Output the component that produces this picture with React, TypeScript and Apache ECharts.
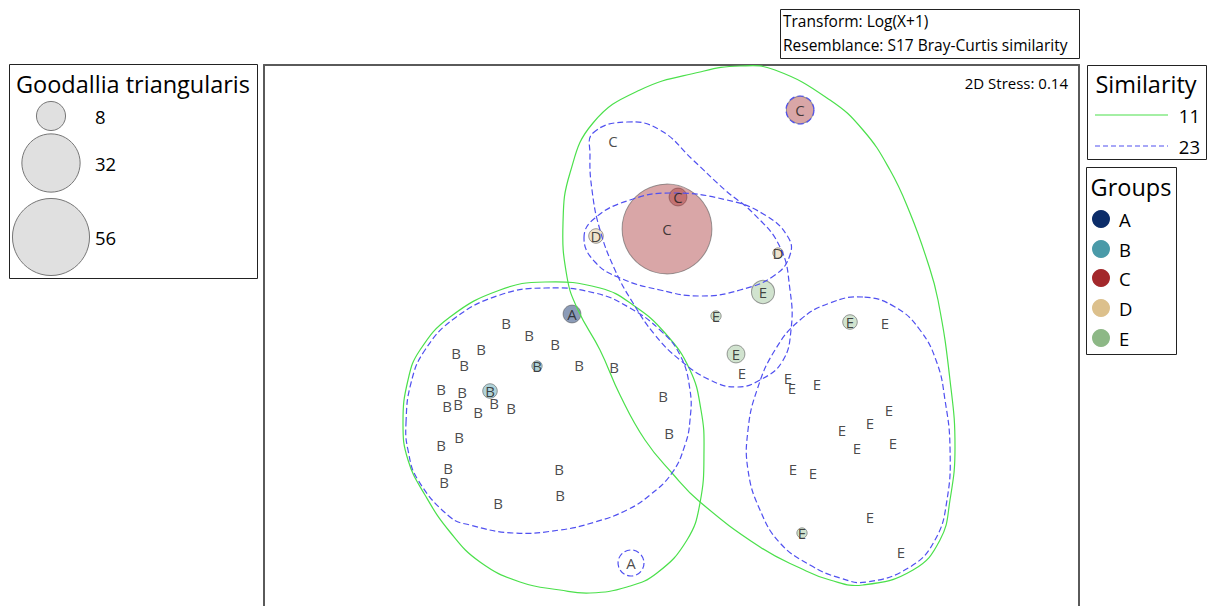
import React, { useEffect, useRef } from "react";
import * as echarts from "echarts";

const FONT = '"Open Sans", "Noto Sans", sans-serif';

// nMDS coordinates: [x, y, Goodallia triangularis abundance]
const groupA = [
  [-0.98, 0.21, 3],
  [-0.39, -2.28, 0],
];
const groupB = [
  [-1.64, 0.12, 0],
  [-1.41, 0.0, 0],
  [-1.15, -0.09, 0],
  [-1.89, -0.14, 0],
  [-2.14, -0.18, 0],
  [-2.06, -0.3, 0],
  [-1.33, -0.31, 1],
  [-0.91, -0.3, 0],
  [-0.56, -0.32, 0],
  [-2.29, -0.54, 0],
  [-2.08, -0.57, 0],
  [-1.8, -0.56, 2],
  [-2.23, -0.71, 0],
  [-2.12, -0.69, 0],
  [-1.76, -0.68, 0],
  [-1.92, -0.77, 0],
  [-1.59, -0.73, 0],
  [-0.07, -0.61, 0],
  [-0.01, -0.98, 0],
  [-2.29, -1.1, 0],
  [-2.11, -1.02, 0],
  [-2.22, -1.33, 0],
  [-2.26, -1.47, 0],
  [-1.11, -1.34, 0],
  [-1.1, -1.6, 0],
  [-1.72, -1.68, 0],
];
const groupC = [
  [1.3, 2.25, 7],
  [-0.57, 1.94, 0],
  [0.08, 1.38, 3],
  [-0.03, 1.06, 76],
];
const groupD = [
  [-0.74, 0.99, 2],
  [1.08, 0.82, 1],
];
const groupE = [
  [0.93, 0.43, 5],
  [0.46, 0.19, 1],
  [0.66, -0.19, 3],
  [0.72, -0.38, 0],
  [1.8, 0.13, 2],
  [2.15, 0.12, 0],
  [1.18, -0.43, 0],
  [1.22, -0.53, 0],
  [1.47, -0.49, 0],
  [2.19, -0.75, 0],
  [2.0, -0.88, 0],
  [1.72, -0.95, 0],
  [2.23, -1.08, 0],
  [1.87, -1.13, 0],
  [1.23, -1.34, 0],
  [1.43, -1.38, 0],
  [2.0, -1.82, 0],
  [1.32, -1.98, 1],
  [2.31, -2.17, 0],
];

const groupNames = ["A", "B", "C", "D", "E"];
const groupData = [groupA, groupB, groupC, groupD, groupE];
const groupColors = ["#0c2d69", "#4a9aa8", "#a3282b", "#dcc08c", "#8db886"];
const bubbleFills = [
  "rgba(12,45,105,0.6)",
  "rgba(74,154,168,0.55)",
  "rgba(163,40,43,0.52)",
  "rgba(220,192,140,0.55)",
  "rgba(141,184,134,0.5)",
];

const sizeLegendValues = [8, 32, 56];
const similarityLevels = ["11", "23"];
const similarityColors = ["#4be04b", "#5050f0"];

// Similarity contours (cluster level 11, solid)
const contours11 = [
  [
    [-2.67, -0.88], [-2.62, -0.45], [-2.5, -0.15], [-2.2, 0.18], [-1.7, 0.45],
    [-1.25, 0.53], [-0.7, 0.47], [-0.37, 0.3], [-0.05, 0.02], [0.2, -0.35],
    [0.31, -0.75], [0.34, -1.15], [0.3, -1.68], [0.17, -2.05], [-0.13, -2.38],
    [-0.43, -2.52], [-0.8, -2.58], [-1.1, -2.55], [-1.5, -2.47], [-1.9, -2.27],
    [-2.2, -1.97], [-2.45, -1.6], [-2.62, -1.25],
  ],
  [
    [-0.3, 2.45], [0.3, 2.63], [0.7, 2.69], [1.05, 2.65], [1.6, 2.35],
    [1.93, 2.05], [2.2, 1.65], [2.4, 1.22], [2.57, 0.75], [2.68, 0.35],
    [2.8, -0.45], [2.85, -1.12], [2.8, -1.65], [2.7, -2.05], [2.43, -2.35],
    [1.93, -2.5], [1.6, -2.45], [1.3, -2.33], [0.9, -2.12], [0.3, -1.67],
    [0.02, -1.38], [-0.25, -1.05], [-0.5, -0.6], [-0.7, -0.15], [-0.92, 0.25],
    [-1.03, 0.58], [-1.07, 1.12], [-1.0, 1.62], [-0.77, 2.12],
  ],
];

// Similarity contours (cluster level 23, dashed)
const contours23 = [
  [
    [-2.64, -0.88], [-2.59, -0.48], [-2.45, -0.15], [-2.15, 0.17], [-1.7, 0.4],
    [-1.25, 0.47], [-0.75, 0.42], [-0.4, 0.27], [-0.1, 0.05], [0.1, -0.2],
    [0.2, -0.55], [0.2, -0.85], [0.15, -1.1], [0.02, -1.38], [-0.2, -1.6],
    [-0.43, -1.75], [-0.75, -1.87], [-1.1, -1.95], [-1.57, -1.98], [-2.0, -1.9],
    [-2.2, -1.82], [-2.52, -1.45], [-2.62, -1.15],
  ],
  [
    [-0.77, 2.02], [-0.43, 2.13], [-0.1, 2.05], [0.23, 1.75], [0.55, 1.45],
    [0.83, 1.22], [1.1, 0.88], [1.2, 0.45], [1.21, 0.05], [1.12, -0.27],
    [0.9, -0.45], [0.67, -0.52], [0.4, -0.45], [0.1, -0.25], [-0.15, 0.0],
    [-0.37, 0.32], [-0.55, 0.65], [-0.7, 1.05], [-0.78, 1.45], [-0.8, 1.8],
  ],
  [
    [-0.86, 0.97], [-0.75, 1.17], [-0.4, 1.35], [0.0, 1.42], [0.57, 1.35],
    [0.95, 1.2], [1.18, 0.98], [1.2, 0.8], [1.05, 0.6], [0.7, 0.45],
    [0.3, 0.39], [-0.1, 0.45], [-0.5, 0.57], [-0.75, 0.73],
  ],
  [
    [1.93, 0.38], [1.6, 0.32], [1.3, 0.15], [1.05, -0.15], [0.87, -0.55],
    [0.78, -0.95], [0.78, -1.35], [0.9, -1.75], [1.1, -2.08], [1.4, -2.3],
    [1.7, -2.43], [1.97, -2.47], [2.4, -2.32], [2.65, -2.05], [2.77, -1.65],
    [2.8, -1.12], [2.75, -0.65], [2.67, -0.28], [2.5, 0.05], [2.25, 0.28],
  ],
];
// single-sample clusters at level 23: [x, y, radius]
const circles23 = [
  [-0.39, -2.28, 0.13],
  [1.3, 2.25, 0.14],
];

const SIZE_K = 10.3; // bubble diameter in px per sqrt(abundance)
const bubbleDiameter = (v: number) => SIZE_K * Math.sqrt(v);

function polygonSeries(contours: number[][][], color: string, dashed: boolean, z: number) {
  return {
    type: "custom",
    coordinateSystem: "cartesian2d",
    silent: true,
    z,
    clip: false,
    data: contours.map((c) => c[0]),
    renderItem: (params: any, api: any) => {
      const pts = contours[params.dataIndex].map((p) => api.coord(p));
      return {
        type: "polygon",
        shape: { points: pts, smooth: 0.45 },
        style: {
          fill: "none",
          stroke: color,
          lineWidth: 1.2,
          lineDash: dashed ? [6, 3] : null,
        },
      };
    },
  };
}

export default function App() {
  const ref = useRef<HTMLDivElement>(null);

  useEffect(() => {
    if (!ref.current) return;
    const chart = echarts.init(ref.current, null, { renderer: "svg" });

    const series: any[] = [];
    groupData.forEach((data, gi) => {
      series.push({
        type: "scatter",
        name: groupNames[gi] + "-bubble",
        silent: true,
        z: 1,
        data: data.filter((d) => d[2] > 0),
        symbol: "circle",
        symbolSize: (val: number[]) => bubbleDiameter(val[2]),
        itemStyle: {
          color: bubbleFills[gi],
          borderColor: "rgba(90,90,90,0.75)",
          borderWidth: 1,
        },
      });
    });
    series.push(polygonSeries(contours11, similarityColors[0], false, 2));
    series.push(polygonSeries(contours23, similarityColors[1], true, 2));
    series.push({
      type: "custom",
      coordinateSystem: "cartesian2d",
      silent: true,
      z: 2,
      data: circles23,
      renderItem: (params: any, api: any) => {
        const c = api.coord([api.value(0), api.value(1)]);
        const r = api.size([api.value(2), 0])[0];
        return {
          type: "circle",
          shape: { cx: c[0], cy: c[1], r },
          style: { fill: "none", stroke: similarityColors[1], lineWidth: 1.2, lineDash: [6, 3] },
        };
      },
    });
    groupData.forEach((data, gi) => {
      series.push({
        type: "scatter",
        name: groupNames[gi],
        silent: true,
        z: 3,
        data: data.map((d) => [d[0], d[1]]),
        symbolSize: 1,
        itemStyle: { color: "rgba(0,0,0,0)" },
        label: {
          show: true,
          position: "inside",
          formatter: groupNames[gi],
          color: "#1a1a1a",
          fontSize: 15,
          fontFamily: FONT,
          textBorderWidth: 0,
          textBorderColor: "transparent",
          textShadowBlur: 0,
        },
      });
    });

    const txt = (text: string, x: number, y: number, size: number, align = "left") => ({
      type: "text",
      silent: true,
      style: {
        text,
        x,
        y,
        fill: "#000",
        font: `${size}px ${FONT}`,
        textAlign: align,
        textVerticalAlign: "middle",
        align,
        verticalAlign: "middle",
      },
    });
    const box = (x: number, y: number, w: number, h: number) => ({
      type: "rect",
      silent: true,
      shape: { x, y, width: w, height: h },
      style: { fill: "#fff", stroke: "#222", lineWidth: 1 },
    });

    const sizeLegendY = [116, 163, 237];
    const groupLegendY = [219, 249, 278, 308, 338];

    const graphics: any[] = [
      box(780.5, 9.5, 299, 49),
      txt("Transform: Log(X+1)", 783, 21, 15.5),
      txt("Resemblance: S17 Bray-Curtis similarity", 783, 45, 15.5),
      txt("2D Stress: 0.14", 1068, 83, 15, "right"),
      box(9.5, 64.5, 248, 214),
      txt("Goodallia triangularis", 133, 84, 23.5, "center"),
      ...sizeLegendValues.map((v, i) => ({
        type: "circle",
        silent: true,
        shape: { cx: 51, cy: sizeLegendY[i], r: bubbleDiameter(v) / 2 },
        style: { fill: "#e0e0e0", stroke: "#777", lineWidth: 1 },
      })),
      ...sizeLegendValues.map((v, i) => txt(String(v), 95, sizeLegendY[i], 18.5)),
      box(1087.5, 65.5, 119, 94),
      txt("Similarity", 1146, 84, 23.5, "center"),
      ...similarityLevels.map((lv, i) => ({
        type: "line",
        silent: true,
        shape: { x1: 1095, y1: 115 + i * 31, x2: 1168, y2: 115 + i * 31 },
        style: { stroke: similarityColors[i], lineWidth: 1.2, lineDash: i === 1 ? [5, 3] : null },
      })),
      ...similarityLevels.map((lv, i) => txt(lv, 1200, 115 + i * 31, 18.5, "right")),
      box(1086.5, 167.5, 90, 187),
      txt("Groups", 1131, 187, 23.5, "center"),
      ...groupNames.map((g, i) => ({
        type: "circle",
        silent: true,
        shape: { cx: 1101, cy: groupLegendY[i], r: 9 },
        style: { fill: groupColors[i] },
      })),
      ...groupNames.map((g, i) => txt(g, 1119, groupLegendY[i], 18.5)),
    ];

    const axisLine = { show: true, onZero: false, lineStyle: { color: "#5a5a5a", width: 2 } };

    chart.setOption({
      animation: false,
      grid: { left: 264, top: 65, right: 136, bottom: 0, containLabel: false },
      xAxis: {
        type: "value",
        position: "top",
        min: -4.06,
        max: 4.09,
        axisLine,
        axisTick: { show: false },
        axisLabel: { show: false },
        splitLine: { show: false },
      },
      yAxis: [
        {
          type: "value",
          position: "left",
          min: -2.71,
          max: 2.7,
          axisLine,
          axisTick: { show: false },
          axisLabel: { show: false },
          splitLine: { show: false },
        },
        {
          type: "value",
          position: "right",
          min: -2.71,
          max: 2.7,
          axisLine,
          axisTick: { show: false },
          axisLabel: { show: false },
          splitLine: { show: false },
        },
      ],
      series,
      graphic: { elements: graphics },
    });

    return () => chart.dispose();
  }, []);

  return (
    <div
      ref={ref}
      style={{ position: "absolute", left: 0, top: 0, width: 1215, height: 606, background: "#fff" }}
    />
  );
}
